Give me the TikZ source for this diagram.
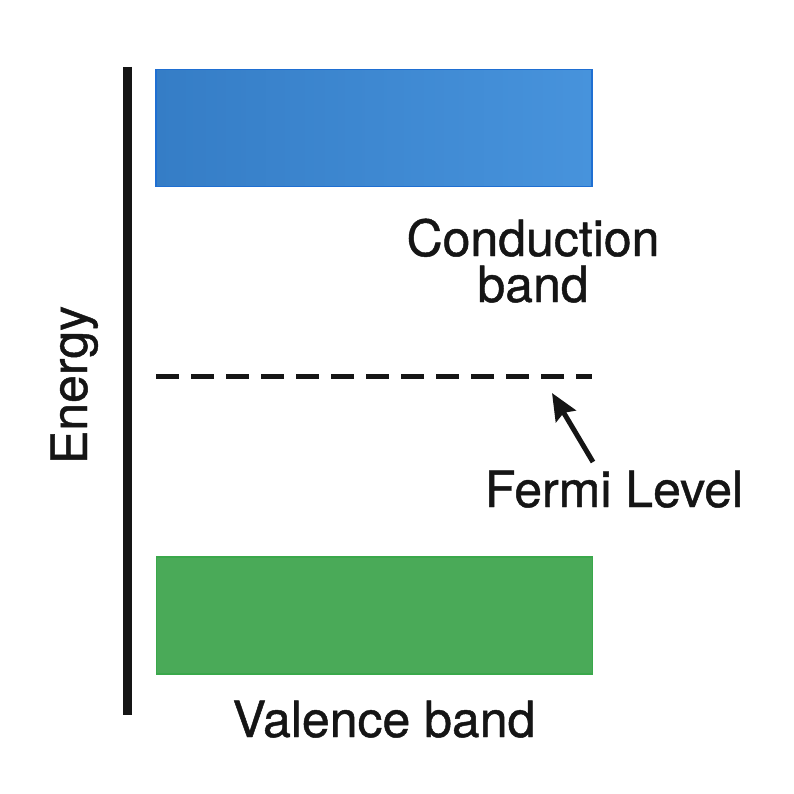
\documentclass[tikz,border=0pt]{standalone}
\usepackage{fontspec}
\setmainfont{TeX Gyre Heros}
\newfontfamily\lblfont{TeX Gyre Heros}[FakeBold=0.9]
\usepackage{tikz}
\usetikzlibrary{arrows.meta,calc,positioning}
\definecolor{cbleft}{HTML}{357DC6}
\definecolor{cbright}{HTML}{4793DC}
\definecolor{cbedge}{HTML}{1F6FD2}
\definecolor{vbfill}{HTML}{4AAA58}
\definecolor{vbedge}{HTML}{3AA84B}
\definecolor{inkblack}{HTML}{151515}
\tikzset{
  band/.style={minimum width=436pt, minimum height=117pt, inner sep=0pt, line width=1.2pt},
  lbl/.style={font=\lblfont\fontsize{50}{45}\selectfont, text=inkblack, inner sep=0pt, align=center},
  fermiline/.style={line width=5pt, inkblack, dash pattern=on 23pt off 12pt},
}
\begin{document}
\begin{tikzpicture}[x=1pt,y=-1pt]
                \useasboundingbox[fill=white] (0,0) rectangle (794,794);
                % energy axis
                \coordinate (axtop) at (127.5,67);
                \coordinate (axbot) at (127.5,715);
                \draw[line width=9pt, inkblack] (axtop) -- (axbot);
                \node[lbl, rotate=90, anchor=base] (energy) at (87,385) {Energy};
                % Draw the bands
                \node[band, draw=cbedge, left color=cbleft, right color=cbright] (cb) at (374,128) {};
                \node[band, draw=vbedge, fill=vbfill] (vb) at (374.5,615.5) {};
                \node[lbl, anchor=base, text depth=0pt] (cblbl) at (533,256) {Conduction};
                \node[lbl, anchor=base] (cblbltwo) at (533,302) {band};
                \node[lbl, anchor=base] (vblbl) at (384,737) {Valence band};
                % Fermi level
                \coordinate (fstart) at (156,376);
                \coordinate (fend) at (592,376);
                \draw[fermiline] (fstart) -- (fend);
                \node[lbl, anchor=base] (fllbl) at (614,507) {Fermi Level};
                \coordinate (ftail) at (593,462);
                \coordinate (ftip) at (552,393);
                \draw[-{Stealth[length=27pt,width=23pt,inset=4pt]}, line width=5pt, inkblack] (ftail) -- (ftip);
              \end{tikzpicture}
\end{document}
